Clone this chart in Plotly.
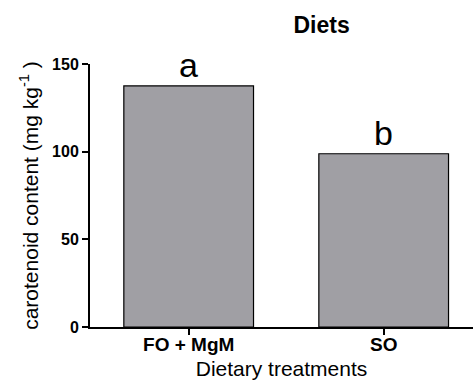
import plotly.graph_objects as go

categories = ["FO + MgM", "SO"]
values = [137.5, 98.8]
letters = ["a", "b"]
y_ticks = [0, 50, 100, 150]

fig = go.Figure()
fig.add_trace(go.Bar(
    x=categories, y=values, width=0.665,
    marker=dict(color="#a09fa4", line=dict(color="#000000", width=1.2)),
    showlegend=False,
))
for c, v, l in zip(categories, values, letters):
    fig.add_annotation(x=c, y=v, text=l, showarrow=False, yanchor="bottom", yshift=0,
                       font=dict(family="Arial, Liberation Sans", size=34, color="#000"))

fig.update_layout(
    width=473, height=390,
    margin=dict(l=90, r=0, t=64, b=63),
    paper_bgcolor="white", plot_bgcolor="white",
    font=dict(family="Arial, Liberation Sans", color="#000"),
    title=dict(text="Diets", x=286/473, xanchor="center", xref="paper",
               y=1 - 25/390, yanchor="middle", yref="container",
               font=dict(size=23, color="#000", weight="bold")),
    bargap=0.335,
)
fig.update_xaxes(
    range=[-0.506, 1.458], showline=True, linewidth=2, linecolor="#000",
    ticks="outside", ticklen=6, tickwidth=1.5, tickcolor="#000",
    tickfont=dict(size=19, weight="bold"), ticklabelstandoff=-7,
    title=dict(text="Dietary treatments", font=dict(size=21), standoff=8),
    showgrid=False, zeroline=False,
)
fig.update_yaxes(
    range=[0, 150], tickvals=y_ticks, showline=True, linewidth=2, linecolor="#000",
    ticks="outside", ticklen=6, tickwidth=1.5, tickcolor="#000",
    tickfont=dict(size=16, weight="bold"),
    title=dict(text="carotenoid content (mg kg<sup>-1</sup> )", font=dict(size=21), standoff=8),
    showgrid=False, zeroline=False,
)

fig.write_html("out.html")
